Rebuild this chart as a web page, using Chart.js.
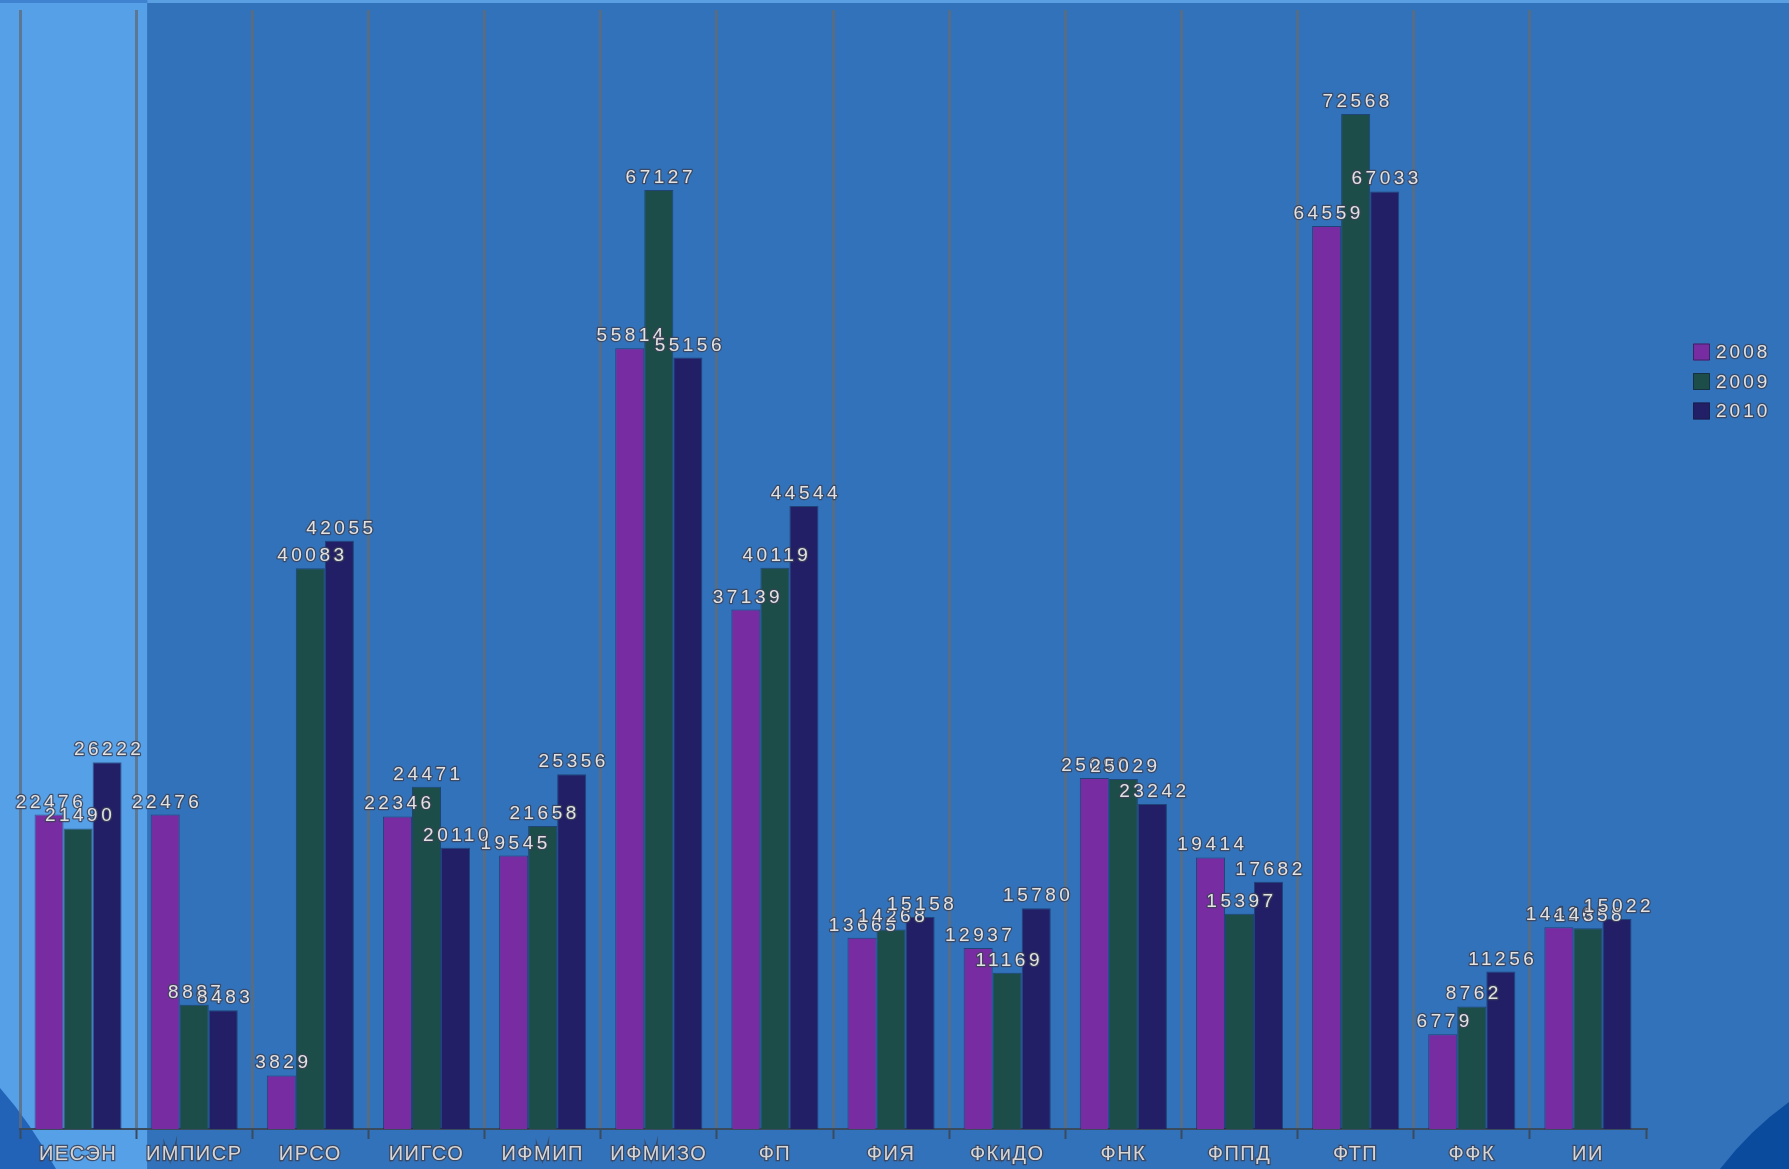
<!DOCTYPE html>
<html><head><meta charset="utf-8">
<style>html,body{margin:0;padding:0;background:#3172ba;overflow:hidden}#wrap{width:1789px;height:1169px;position:relative}canvas{display:block}</style>
<script src="https://cdn.jsdelivr.net/npm/chart.js@4.4.1/dist/chart.umd.min.js"></script>
</head><body><div id="wrap"><canvas id="c" width="1789" height="1169"></canvas></div>
<script>
const categories = ['ИЕСЭН','ИМПИСР','ИРСО','ИИГСО','ИФМИП','ИФМИЗО','ФП','ФИЯ','ФКиДО','ФНК','ФППД','ФТП','ФФК','ИИ'];
const series2008 = [22476,22476,3829,22346,19545,55814,37139,13665,12937,25090,19414,64559,6779,14426];
const series2009 = [21490,8887,40083,24471,21658,67127,40119,14268,11169,25029,15397,72568,8762,14358];
const series2010 = [26222,8483,42055,20110,25356,55156,44544,15158,15780,23242,17682,67033,11256,15022];
const seriesNames = ['2008','2009','2010'];
const seriesColors = ['#782ca2','#1d4d49','#221f66'];
const yMax = 80000;

const bgPlugin = {
  id:'bg',
  beforeDraw(chart){
    const ctx = chart.ctx, W = chart.width, H = chart.height;
    const xs = chart.scales.x;
    const catW = (xs.right - xs.left) / categories.length;
    const hl = xs.getPixelForValue(0) + catW/2 + 11;
    ctx.save();
    ctx.fillStyle = '#3172ba'; ctx.fillRect(0,0,W,H);
    ctx.fillStyle = '#56a0e8'; ctx.fillRect(0,0,hl,H);
    ctx.fillStyle = '#5a9fe2'; ctx.fillRect(hl,0,W-hl,3);
    ctx.fillStyle = '#3f82cf'; ctx.fillRect(0,0,hl,3);
    ctx.fillStyle = '#2263b8';
    ctx.beginPath(); ctx.moveTo(0,1088); ctx.quadraticCurveTo(30,1122,56,H); ctx.lineTo(0,H); ctx.closePath(); ctx.fill();
    ctx.fillStyle = '#0b4b9e';
    ctx.beginPath(); ctx.moveTo(W,1102); ctx.quadraticCurveTo(1750,1130,1720,H); ctx.lineTo(W,H); ctx.closePath(); ctx.fill();
    ctx.restore();
    ctx.letterSpacing = '1.5px';
  }
};

const labelPlugin = {
  id:'vals',
  afterDatasetsDraw(chart){
    const ctx = chart.ctx;
    ctx.save();
    ctx.font = '19px "Liberation Sans", Arial, sans-serif';
    ctx.letterSpacing = '3.5px';
    ctx.textAlign = 'center';
    ctx.textBaseline = 'alphabetic';
    ctx.lineJoin = 'round';
    chart.data.datasets.forEach((ds,i)=>{
      const meta = chart.getDatasetMeta(i);
      meta.data.forEach((el,j)=>{
        const t = String(ds.data[j]);
        const x = el.x + 2, y = el.y - 7;
        ctx.lineWidth = 2.5; ctx.strokeStyle = 'rgba(60,66,86,0.85)';
        ctx.strokeText(t,x,y);
        ctx.fillStyle = '#e2e2e2';
        ctx.fillText(t,x,y);
      });
    });
    ctx.restore();
  },
  afterDraw(chart){
    const ctx = chart.ctx;
    ctx.save();
    ctx.font = '19px "Liberation Sans", Arial, sans-serif';
    ctx.letterSpacing = '3px';
    ctx.textAlign = 'left';
    ctx.textBaseline = 'middle';
    ctx.lineJoin = 'round';
    chart.data.datasets.forEach((ds,i)=>{
      const cy = 352 + i*29.5;
      ctx.fillStyle = ds.backgroundColor;
      ctx.fillRect(1693, cy-8.5, 17, 17);
      ctx.strokeStyle = 'rgba(20,30,60,0.6)'; ctx.lineWidth = 1;
      ctx.strokeRect(1693.5, cy-8, 16, 16);
      ctx.lineWidth = 2.5; ctx.strokeStyle = 'rgba(60,66,86,0.85)';
      ctx.strokeText(ds.label, 1716, cy+1);
      ctx.fillStyle = '#e2e2e2';
      ctx.fillText(ds.label, 1716, cy+1);
    });
    ctx.restore();
  }
};

const mk = (i, data) => ({
  label: seriesNames[i], data, backgroundColor: seriesColors[i],
  borderColor: 'rgba(10,15,40,0.45)', borderWidth: 1,
  categoryPercentage: 0.75, barPercentage: 1.0
});

new Chart(document.getElementById('c'), {
  type: 'bar',
  data: { labels: categories, datasets: [mk(0,series2008), mk(1,series2009), mk(2,series2010)] },
  options: {
    responsive: false, animation: false, devicePixelRatio: 1,
    layout: { padding: { left: 20, right: 143, top: 10, bottom: 0 } },
    plugins: { legend: { display: false }, tooltip: { enabled: false } },
    scales: {
      x: {
        afterFit(s){ s.height = 40; },
        grid: {
          offset: true, lineWidth: 3, tickLength: 10,
          color: ctx => (ctx.type === 'tick' && ctx.index !== undefined) ? 'rgba(95,108,122,0.8)' : 'rgba(0,0,0,0)',
          tickColor: '#3b4b5e', tickWidth: 2
        },
        border: { display: true, color: '#3b4b5e', width: 2 },
        ticks: {
          color: '#d6d6d6', padding: 3, maxRotation: 0, autoSkip: false,
          textStrokeColor: 'rgba(60,66,86,0.85)', textStrokeWidth: 2.5,
          font: { family: '"Liberation Sans", Arial, sans-serif', size: 20 }
        }
      },
      y: { display: false, min: 0, max: yMax }
    }
  },
  plugins: [bgPlugin, labelPlugin]
});
</script>
</body></html>
